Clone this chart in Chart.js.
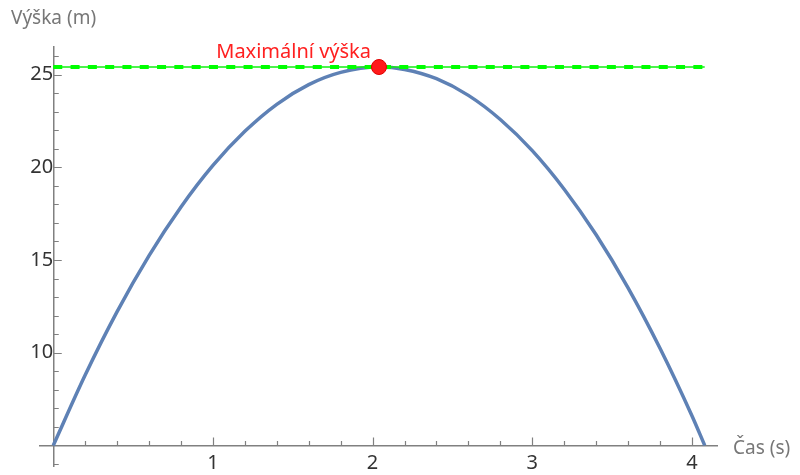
<!DOCTYPE html>
<html>
<head>
<meta charset="utf-8">
<script src="https://cdn.jsdelivr.net/npm/chart.js@4"></script>
<style>
  html, body { margin: 0; padding: 0; background: #fff; }
  #wrap { width: 800px; height: 475px; }
</style>
</head>
<body>
<div id="wrap"><canvas id="chart" width="800" height="475"></canvas></div>
<script>
// Time (s) and height (m)
const times = [0, 0.2, 0.4, 0.6, 0.8, 1.0, 1.2, 1.4, 1.6, 1.8, 2.04, 2.2, 2.4, 2.6, 2.8, 3.0, 3.2, 3.4, 3.6, 3.8, 4.0, 4.08];
const heights = [5, 8.8, 12.22, 15.24, 17.86, 20.1, 21.94, 23.4, 24.46, 25.12, 25.41, 25.28, 24.78, 23.88, 22.58, 20.9, 18.82, 16.36, 13.5, 10.24, 6.6, 5.0];

// Maximum point and its guide line
const maxPoint = { x: 2.04, y: 25.41 };
const maxLineX = [0, 4.08];
const maxLabel = 'Maximální výška';

// Tick labels
const xTickLabels = [1, 2, 3, 4];
const yTickLabels = [10, 15, 20, 25];
const xMinorTicks = [0.2, 0.4, 0.6, 0.8, 1.2, 1.4, 1.6, 1.8, 2.2, 2.4, 2.6, 2.8, 3.2, 3.4, 3.6, 3.8];
const yMinorTicks = [4, 6, 7, 8, 9, 11, 12, 13, 14, 16, 17, 18, 19, 21, 22, 23, 24, 26];

const axisColor = '#808080';
const fontFamily = "'Noto Sans', 'DejaVu Sans', sans-serif";

// Plugin to draw inward ticks and the free text labels
const decorations = {
    id: 'decorations',
    afterDraw(chart) {
        const ctx = chart.ctx;
        const xs = chart.scales.x;
        const ys = chart.scales.y;
        const x0 = xs.getPixelForValue(0);
        const y0 = ys.getPixelForValue(5);

        ctx.save();
        ctx.strokeStyle = axisColor;
        ctx.lineWidth = 1.2;
        ctx.beginPath();
        xTickLabels.forEach(v => {
            const px = Math.round(xs.getPixelForValue(v)) + 0.5;
            ctx.moveTo(px, y0); ctx.lineTo(px, y0 - 8);
        });
        xMinorTicks.forEach(v => {
            const px = Math.round(xs.getPixelForValue(v)) + 0.5;
            ctx.moveTo(px, y0); ctx.lineTo(px, y0 - 4.5);
        });
        yTickLabels.forEach(v => {
            const py = Math.round(ys.getPixelForValue(v)) + 0.5;
            ctx.moveTo(x0, py); ctx.lineTo(x0 + 8.5, py);
        });
        yMinorTicks.forEach(v => {
            const py = Math.round(ys.getPixelForValue(v)) + 0.5;
            ctx.moveTo(x0, py); ctx.lineTo(x0 + 5.5, py);
        });
        ctx.stroke();

        // axis titles
        ctx.fillStyle = '#777777';
        ctx.font = '19px ' + fontFamily;
        ctx.textBaseline = 'middle';
        ctx.textAlign = 'left';
        ctx.fillText('Výška (m)', 11, 19);
        ctx.fillText('Čas (s)', 733, 449);

        // max label
        ctx.fillStyle = '#ff2020';
        ctx.font = '20px ' + fontFamily;
        ctx.textAlign = 'right';
        ctx.textBaseline = 'alphabetic';
        ctx.fillText(maxLabel, xs.getPixelForValue(maxPoint.x) - 8, ys.getPixelForValue(maxPoint.y) - 9);
        ctx.restore();
    }
};

const ctx = document.getElementById('chart').getContext('2d');
new Chart(ctx, {
    type: 'line',
    data: {
        datasets: [
            {
                label: 'max point',
                data: [maxPoint],
                showLine: false,
                pointRadius: 7.5,
                pointBackgroundColor: '#ff1a1a',
                pointBorderColor: '#e00000',
                pointBorderWidth: 1,
                order: 0
            },
            {
                label: 'max line dashes',
                data: maxLineX.map(x => ({ x: x, y: maxPoint.y })),
                borderColor: '#00ff00',
                borderWidth: 4,
                borderDash: [9, 8.3],
                pointRadius: 0,
                order: 1
            },
            {
                label: 'max line',
                data: maxLineX.map(x => ({ x: x, y: maxPoint.y })),
                borderColor: '#11ee11',
                borderWidth: 1.5,
                pointRadius: 0,
                order: 2
            },
            {
                label: 'height',
                data: times.map((t, i) => ({ x: t, y: heights[i] })),
                borderColor: '#5e81b5',
                borderWidth: 3.5,
                pointRadius: 0,
                cubicInterpolationMode: 'monotone',
                order: 3
            }
        ]
    },
    options: {
        responsive: false,
        animation: false,
        layout: { padding: { left: 40, right: 83, top: 47, bottom: 9 } },
        plugins: {
            legend: { display: false },
            tooltip: { enabled: false }
        },
        scales: {
            x: {
                type: 'linear',
                min: -0.083,
                max: 4.157,
                position: { y: 5 },
                afterBuildTicks: scale => { scale.ticks = xTickLabels.map(v => ({ value: v })); },
                afterFit: scale => { scale.paddingLeft = 0; scale.paddingRight = 0; },
                grid: { display: false, drawTicks: false },
                border: { display: true, color: axisColor, width: 1.5 },
                ticks: {
                    color: '#333333',
                    font: { family: fontFamily, size: 20 },
                    padding: 6,
                    maxRotation: 0
                }
            },
            y: {
                type: 'linear',
                min: 3.89,
                max: 26.49,
                position: { x: 0 },
                afterBuildTicks: scale => { scale.ticks = yTickLabels.map(v => ({ value: v })); },
                afterFit: scale => { scale.paddingTop = 0; scale.paddingBottom = 0; },
                grid: { display: false, drawTicks: false },
                border: { display: true, color: axisColor, width: 1.5 },
                ticks: {
                    color: '#333333',
                    font: { family: fontFamily, size: 20 },
                    padding: 8
                }
            }
        }
    },
    plugins: [decorations]
});
</script>
</body>
</html>
